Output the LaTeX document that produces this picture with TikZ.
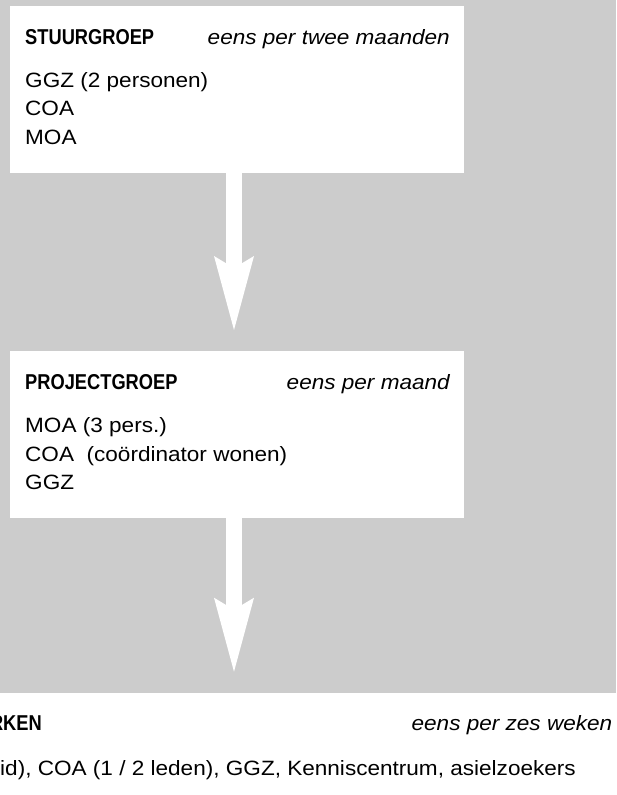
\documentclass[tikz,border=0pt]{standalone}
\usepackage{fontspec}
\setmainfont{Liberation Sans}[FakeStretch=1.09]
\newfontfamily\hdfont[FakeStretch=0.85]{Liberation Sans}
\usetikzlibrary{arrows.meta,calc}
\definecolor{bggray}{HTML}{CCCCCC}
\tikzset{
  panel/.style={fill=white, draw=none, rectangle, inner sep=0pt, outer sep=0pt},
  head/.style={anchor=base west, inner sep=0pt, font=\hdfont\bfseries\fontsize{21.5}{24}\selectfont},
  freq/.style={anchor=base east, inner sep=0pt, font=\itshape\fontsize{20.7}{24}\selectfont},
  item/.style={anchor=base west, inner sep=0pt, font=\fontsize{20.7}{24}\selectfont},
  flow/.style={draw=white, line width=16pt, -{Stealth[length=74pt, width=40pt, inset=12pt, line width=0pt]}},
}
\begin{document}
\begin{tikzpicture}[x=1pt,y=1pt]
\useasboundingbox (0,0) rectangle (616,-795);
\fill[bggray] (0,0) rectangle (616,-692.7);
% panels
\node[panel, minimum width=454pt, minimum height=167pt, anchor=north west] (b1) at (10,-6) {};
\node[panel, minimum width=454pt, minimum height=167pt, anchor=north west] (b2) at (10,-351) {};
\node[panel, minimum width=700pt, minimum height=110pt, anchor=north] (b3) at (308,-692.7) {};
% connectors
\coordinate (ax) at (234,0);
\draw[flow] (b1.south -| ax) -- ($(b2.north -| ax)+(0,21)$);
\draw[flow] (b2.south -| ax) -- ($(b3.north -| ax)+(0,21)$);
% box 1
\node[head] (h1) at (25,-44) {STUURGROEP};
\node[freq] (f1) at (450,-44) {eens per twee maanden};
\node[item] (i11) at (25,-87) {GGZ (2 personen)};
\node[item] (i12) at (25,-115.5) {COA};
\node[item] (i13) at (25,-144) {MOA};
% box 2
\node[head] (h2) at (25,-389.5) {PROJECTGROEP};
\node[freq] (f2) at (450,-389.5) {eens per maand};
\node[item] (i21) at (25,-432.5) {MOA (3 pers.)};
\node[item] (i22) at (25,-461) {COA\ \ (coördinator wonen)};
\node[item] (i23) at (25,-489.5) {GGZ};
% bottom
\node[head, anchor=base east] (h3) at (42,-730.5) {RKEN};
\node[freq] (f3) at (612.5,-730.5) {eens per zes weken};
\node[item] (i31) at (0,-775) {id), COA (1 / 2 leden), GGZ, Kenniscentrum, asielzoekers};
\end{tikzpicture}
\end{document}
